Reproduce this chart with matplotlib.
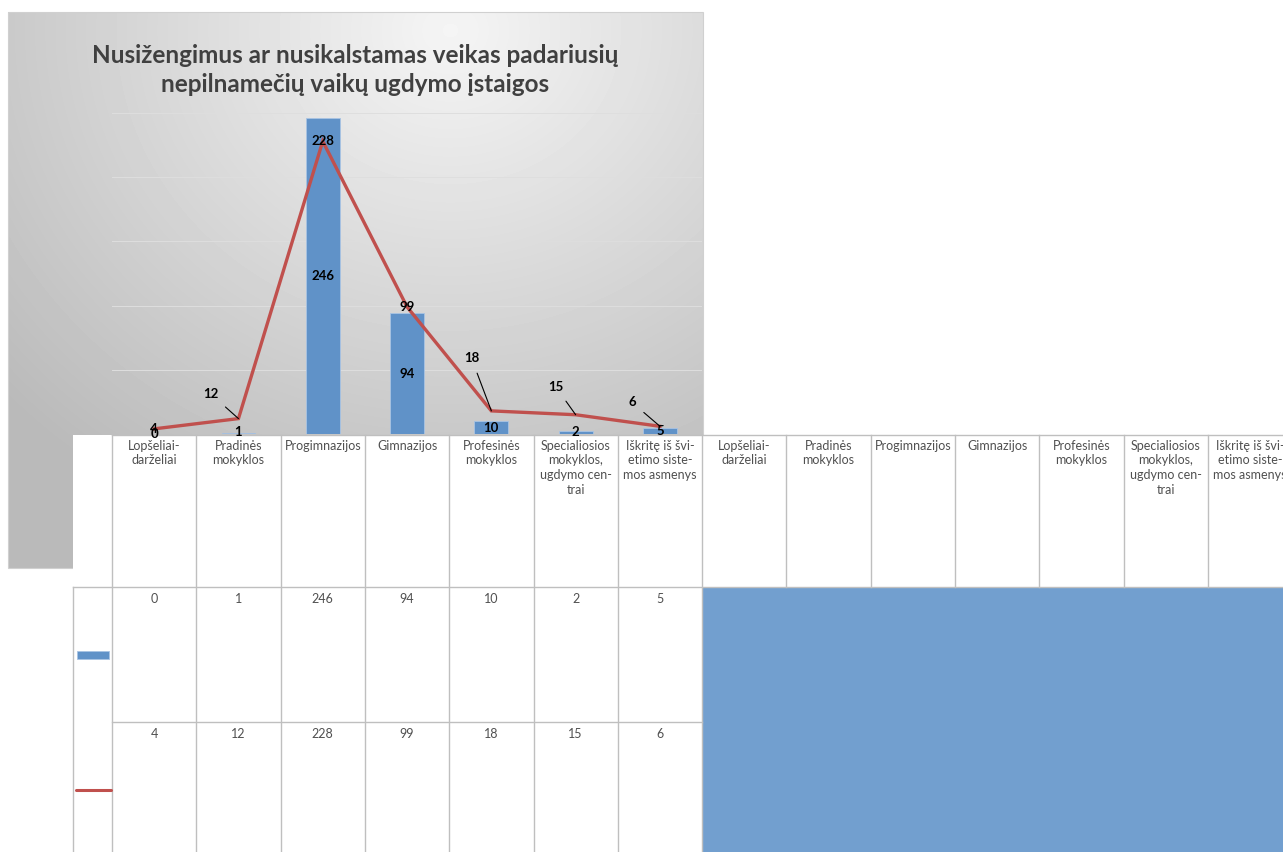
import matplotlib
matplotlib.use('Agg')
import matplotlib.pyplot as plt
from matplotlib.patches import Rectangle
import numpy as np

# data
categories = ['Lopšeliai-\ndarželiai', 'Pradinės\nmokyklos', 'Progimnazijos', 'Gimnazijos',
              'Profesinės\nmokyklos', 'Specialiosios\nmokyklos,\nugdymo cen-\ntrai',
              'Iškritę iš švi-\netimo siste-\nmos asmenys']
bar_values = [0, 1, 246, 94, 10, 2, 5]
line_values = [4, 12, 228, 99, 18, 15, 6]
title = 'Nusižengimus ar nusikalstamas veikas padariusių\nnepilnamečių vaikų ugdymo įstaigos'

# label offsets for the line series (pixels)
line_label_offsets = [(0, 0), (-28, 25), (0, 0), (0, 0), (-20, 53), (-20, 28), (-28, 24)]

BAR_C = '#6092c8'
LINE_C = '#c0504d'
FILL_C = '#729fcf'
GRID_C = '#bfbfbf'
TXT_C = '#404040'

plt.rcParams['font.family'] = ['Lato', 'DejaVu Sans']

W, H = 1283, 852
fig = plt.figure(figsize=(W / 100, H / 100), dpi=100)

# full-figure overlay in pixel coordinates (background + table)
bg = fig.add_axes([0, 0, 1, 1], zorder=0)
bg.set_xlim(0, W)
bg.set_ylim(H, 0)
bg.axis('off')

# gray radial gradient chart area
x0, x1, y0, y1 = 8, 703, 12, 568
gx, gy = np.meshgrid(np.arange(x0, x1), np.arange(y0, y1))
d = np.sqrt(((gx - 450) / 600) ** 2 + ((gy - 30) / 540) ** 2)
d = np.clip(d, 0, 1)
light, dark = 0.96, 0.73
img = light - (light - dark) * d
bg.imshow(img, cmap='gray', vmin=0, vmax=1, extent=[x0, x1, y1, y0], aspect='auto', zorder=0)
bg.add_patch(Rectangle((x0, y0), x1 - x0, y1 - y0, fill=False, ec='#d0d0d0', lw=0.8, zorder=1))

# table region (white), columns
left_col, col0, cw = 73, 112, 84.3
t_top, r1, r2 = 435, 587, 722
bg.add_patch(Rectangle((left_col, t_top), W - left_col, H - t_top, fc='white', ec='none', zorder=2))
n = len(categories)
ncols_total = 2 * n
# blue block to the right of the first table
bg.add_patch(Rectangle((col0 + cw * n, r1), W, H - r1, fc=FILL_C, ec='none', zorder=3))

lk = dict(color=GRID_C, lw=1, zorder=4)
bg.plot([col0, W], [t_top, t_top], **lk)
bg.plot([left_col, W], [r1, r1], **lk)
bg.plot([col0, col0 + cw * n], [r2, r2], **lk)
bg.plot([left_col, left_col], [r1, H], **lk)
for i in range(n + 1):
    xx = col0 + cw * i
    bg.plot([xx, xx], [t_top, H], **lk)
for i in range(n + 1, ncols_total + 1):
    xx = col0 + cw * i
    bg.plot([xx, xx], [t_top, r1], **lk)

# header texts (two copies, second one overflowing)
for k in range(2):
    for i, c in enumerate(categories):
        bg.text(col0 + cw * (k * n + i + 0.5), t_top + 5, c, ha='center', va='top',
                fontsize=9, color='#505050', linespacing=1.25, zorder=5)

# values rows
for i in range(n):
    cx = col0 + cw * (i + 0.5)
    bg.text(cx, r1 + 6, str(bar_values[i]), ha='center', va='top', fontsize=9,
            color='#505050', zorder=5)
    bg.text(cx, r2 + 6, str(line_values[i]), ha='center', va='top', fontsize=9,
            color='#505050', zorder=5)

# legend keys
bg.add_patch(Rectangle((77, 651), 32, 8, fc=BAR_C, ec='#a9c4e4', lw=0.6, zorder=5))
bg.plot([76, 111], [790, 790], color=LINE_C, lw=2.2, solid_capstyle='round', zorder=5)

# title
bg.text(355, 70, title, ha='center', va='center', fontsize=17.5, fontweight='bold',
        color=TXT_C, linespacing=1.3, zorder=5)

# main chart axes
ax = fig.add_axes([col0 / W, 1 - 434 / H, cw * n / W, (434 - 113) / H], zorder=2)
ax.patch.set_alpha(0)
x = np.arange(n)
ax.set_xlim(-0.5, n - 0.5)
ax.set_ylim(0, 250)
for g in [50, 100, 150, 200, 250]:
    ax.axhline(g, color='#dedede', lw=0.7, zorder=0)
ax.bar(x, bar_values, width=0.4, color=BAR_C, ec='#a9c4e4', lw=0.6, zorder=2)
ax.plot(x, line_values, color=LINE_C, lw=2.4, zorder=3, solid_joinstyle='miter')
for s in ax.spines.values():
    s.set_visible(False)
ax.set_xticks([])
ax.set_yticks([])

for i, v in enumerate(bar_values):
    ax.text(i, max(v / 2, 1.5) if v else 0, str(v), ha='center', va='center',
            fontsize=9.5, fontweight='bold', color='black', zorder=4, clip_on=False)
for i, v in enumerate(line_values):
    dx, dy = line_label_offsets[i]
    if dx or dy:
        ax.annotate(str(v), (i, v), xytext=(dx, dy), textcoords='offset pixels',
                    ha='center', va='center', fontsize=9.5, fontweight='bold', color='black',
                    zorder=4, arrowprops=dict(arrowstyle='-', color='black', lw=0.8,
                                              shrinkA=5, shrinkB=0))
    else:
        ax.annotate(str(v), (i, v), ha='center', va='center', fontsize=9.5,
                    fontweight='bold', color='black', zorder=4)

fig.savefig('out.png', dpi=100)
